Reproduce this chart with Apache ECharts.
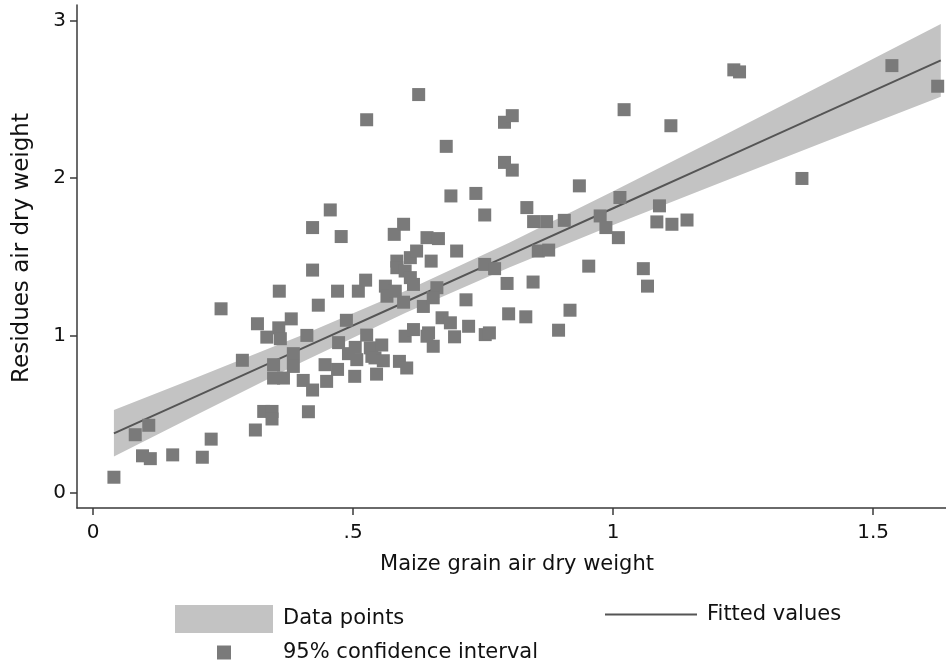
<!DOCTYPE html>
<html><head><meta charset="utf-8">
<script src="https://cdn.jsdelivr.net/npm/echarts@6/dist/echarts.min.js"></script>
<style>html,body{margin:0;padding:0;background:#fff}#c{width:946px;height:666px}</style>
</head><body><div id="c"></div>
<script>
// ---- data ----
const pointX = [0.040,0.081,0.107,0.095,0.110,0.153,0.210,0.227,0.312,0.328,0.344,0.344,0.414,0.287,0.246,0.316,0.358,0.381,0.357,0.334,
  0.360,0.411,0.433,0.422,0.422,0.456,0.477,0.526,0.470,0.487,0.385,0.385,0.347,0.347,0.366,0.404,0.422,0.446,0.449,0.470,
  0.472,0.491,0.503,0.507,0.504,0.526,0.536,0.533,0.555,0.542,0.558,0.545,0.589,0.603,0.600,0.616,0.645,0.642,0.654,0.671,
  0.687,0.695,0.722,0.754,0.762,0.510,0.524,0.562,0.565,0.581,0.597,0.635,0.661,0.654,0.717,0.584,0.584,0.600,0.610,0.616,
  0.610,0.622,0.650,0.699,0.579,0.597,0.642,0.664,0.688,0.679,0.626,0.736,0.753,0.791,0.806,0.791,0.806,0.753,0.772,0.796,
  0.846,0.799,0.832,0.917,0.895,0.834,0.847,0.872,0.906,0.856,0.876,0.953,0.935,0.975,0.986,1.010,1.013,1.021,1.058,1.066,
  1.089,1.084,1.113,1.142,1.111,1.232,1.243,1.363,1.536,1.624];
const pointY = [0.100,0.370,0.430,0.236,0.218,0.242,0.227,0.342,0.400,0.518,0.518,0.470,0.516,0.843,1.170,1.075,1.282,1.106,1.049,0.990,
  0.980,1.001,1.193,1.416,1.686,1.798,1.629,2.371,1.282,1.097,0.885,0.804,0.815,0.730,0.730,0.715,0.654,0.815,0.709,0.785,
  0.955,0.885,0.741,0.847,0.925,1.003,0.868,0.922,0.940,0.858,0.840,0.755,0.836,0.794,0.996,1.038,1.017,0.996,0.932,1.113,
  1.081,0.992,1.059,1.006,1.017,1.282,1.352,1.314,1.250,1.282,1.212,1.185,1.304,1.240,1.227,1.473,1.431,1.410,1.368,1.325,
  1.495,1.537,1.473,1.537,1.643,1.707,1.622,1.616,1.887,2.202,2.531,1.903,1.766,2.355,2.397,2.100,2.051,1.452,1.425,1.331,
  1.340,1.138,1.119,1.161,1.034,1.813,1.724,1.724,1.732,1.537,1.543,1.441,1.951,1.760,1.686,1.622,1.877,2.435,1.425,1.314,
  1.824,1.722,1.707,1.734,2.333,2.688,2.675,1.998,2.715,2.584];
const fitX    = [0.04, 0.2, 0.4, 0.6, 0.8, 1.0, 1.2, 1.4, 1.63];
const fitY    = [0.379, 0.617, 0.915, 1.213, 1.511, 1.809, 2.107, 2.405, 2.748];
const ciLower = [0.231, 0.499, 0.829, 1.143, 1.432, 1.702, 1.963, 2.221, 2.517];
const ciUpper = [0.527, 0.735, 1.001, 1.283, 1.590, 1.916, 2.251, 2.589, 2.979];
const xTickValues = [0, 0.5, 1, 1.5];
const xTickLabels = ['0', '.5', '1', '1.5'];
const yTickValues = [0, 1, 2, 3];
const yTickLabels = ['0', '1', '2', '3'];
const xTitle = 'Maize grain air dry weight';
const yTitle = 'Residues air dry weight';
const bandName = 'Data points';
const fitName = 'Fitted values';
const pointsName = '95% confidence interval';

// ---- build options ----
const FONT = 'DejaVu Sans';
const BAND = '#c3c3c3';
const scatterData = pointX.map((x, i) => [x, pointY[i]]);
const bandData = fitX.map((x, i) => [x, ciLower[i], ciUpper[i]]);
const fitData = fitX.map((x, i) => [x, fitY[i]]);
const xLabelMap = {}; xTickValues.forEach((v, i) => xLabelMap[v] = xTickLabels[i]);
const yLabelMap = {}; yTickValues.forEach((v, i) => yLabelMap[v] = yTickLabels[i]);

const chart = echarts.init(document.getElementById('c'), null, {renderer: 'canvas'});
chart.setOption({
  backgroundColor: '#ffffff',
  animation: false,
  textStyle: {fontFamily: FONT},
  grid: {left: 77, right: 0, top: 5, bottom: 158, containLabel: false},
  xAxis: {
    type: 'value', min: -0.031, max: 1.64,
    name: xTitle, nameLocation: 'middle', nameGap: 46,
    nameTextStyle: {fontFamily: FONT, fontSize: 21, color: '#111', padding: [0, 0, 0, 11]},
    axisLine: {show: true, onZero: false, lineStyle: {color: '#3a3a3a', width: 1.5}},
    axisTick: {show: true, customValues: xTickValues, length: 7, lineStyle: {color: '#3a3a3a', width: 1.5}},
    axisLabel: {customValues: xTickValues, margin: 15, fontSize: 20, color: '#111', fontFamily: FONT,
      formatter: v => xLabelMap[v] !== undefined ? xLabelMap[v] : ''},
    splitLine: {show: false}
  },
  yAxis: {
    type: 'value', min: -0.0955, max: 3.1,
    name: yTitle, nameLocation: 'middle', nameGap: 43, nameRotate: 90,
    nameTextStyle: {fontFamily: FONT, fontSize: 23, color: '#111', padding: [0, 0, 0, 17]},
    axisLine: {show: true, onZero: false, lineStyle: {color: '#3a3a3a', width: 1.5}},
    axisTick: {show: true, customValues: yTickValues, length: 7, lineStyle: {color: '#3a3a3a', width: 1.5}},
    axisLabel: {customValues: yTickValues, margin: 11, fontSize: 20, color: '#111', fontFamily: FONT,
      formatter: v => yLabelMap[v] !== undefined ? yLabelMap[v] : ''},
    splitLine: {show: false}
  },
  legend: [
    {left: 170, top: 600, itemWidth: 98, itemHeight: 28, icon: 'rect', data: [bandName],
      itemStyle: {color: BAND},
      textStyle: {fontFamily: FONT, fontSize: 21, color: '#111', padding: [0, 0, 0, 5]}},
    {left: 600, top: 599, itemWidth: 92, itemHeight: 2, icon: 'rect', data: [fitName],
      itemStyle: {color: '#555555'},
      textStyle: {fontFamily: FONT, fontSize: 21, color: '#111', padding: [0, 0, 0, 5]}},
    {left: 212, top: 637, itemWidth: 14, itemHeight: 14, icon: 'rect', data: [pointsName],
      textStyle: {fontFamily: FONT, fontSize: 21, color: '#111', padding: [0, 0, 0, 47]}}
  ],
  series: [
    {name: bandName, type: 'custom', data: bandData, silent: true, z: 1,
      encode: {x: 0, y: [1, 2]},
      itemStyle: {color: BAND},
      renderItem: (params, api) => {
        if (params.dataIndex !== 0) return null;
        const upper = [], lower = [];
        for (let i = 0; i < bandData.length; i++) {
          upper.push(api.coord([bandData[i][0], bandData[i][2]]));
          lower.push(api.coord([bandData[i][0], bandData[i][1]]));
        }
        return {type: 'polygon', shape: {points: upper.concat(lower.reverse())},
          style: {fill: BAND, stroke: null}};
      }},
    {name: fitName, type: 'line', data: fitData, symbol: 'none', silent: true,
      lineStyle: {color: '#555555', width: 2}, itemStyle: {color: '#555555'}, z: 2},
    {name: pointsName, type: 'scatter', data: scatterData, symbol: 'rect', symbolSize: 13,
      itemStyle: {color: '#7a7a7a', opacity: 1}, z: 3}
  ]
});
</script>
</body></html>
